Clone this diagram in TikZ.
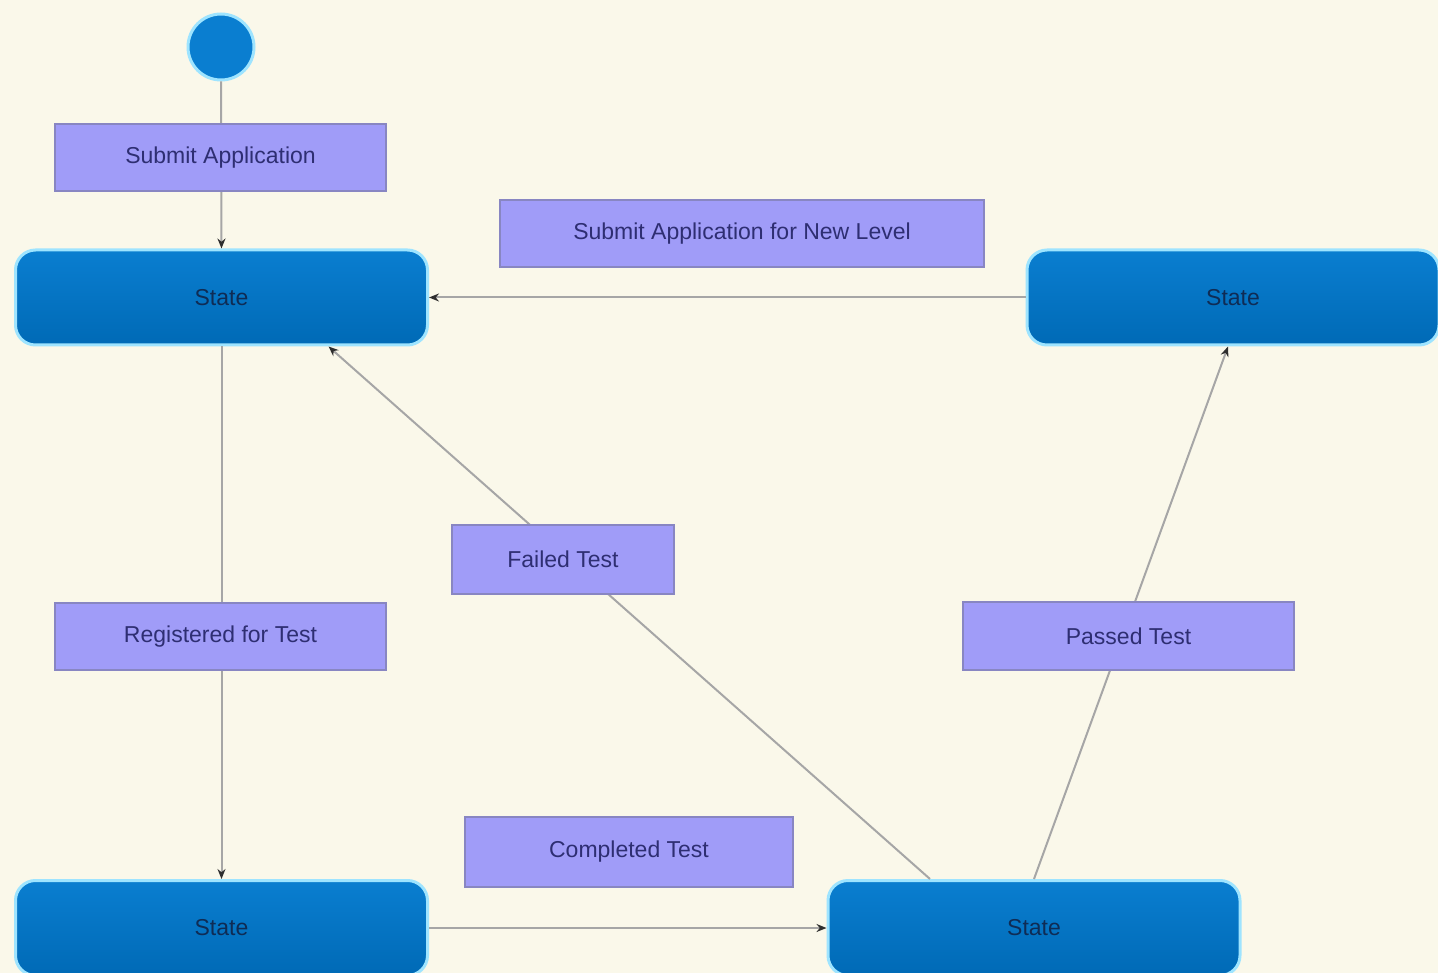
\documentclass[tikz,border=0pt]{standalone}
\usepackage{fontspec}
\setmainfont{Liberation Sans}
\usetikzlibrary{arrows.meta,calc}
\definecolor{bg}{HTML}{FAF8EA}
\definecolor{stTop}{HTML}{0A7ED0}
\definecolor{stBot}{HTML}{006AB6}
\definecolor{glow}{HTML}{9EE4FF}
\definecolor{stText}{HTML}{0F2C55}
\definecolor{lbFill}{HTML}{A09CF8}
\definecolor{lbDraw}{HTML}{8886C2}
\definecolor{lbText}{HTML}{2E2E72}
\definecolor{wire}{HTML}{A6A6A6}
\definecolor{tip}{HTML}{2E2E2E}
\begin{document}
\begin{tikzpicture}[x=1pt,y=-1pt,
  statebox/.style={rounded corners=20pt, top color=stTop, bottom color=stBot, draw=glow, line width=3pt,
    minimum width=412pt, minimum height=95pt, inner sep=0pt, text=stText, font=\fontsize{23}{27}\selectfont},
  initstate/.style={circle, fill=stTop, draw=glow, line width=3pt, minimum size=66pt, inner sep=0pt},
  lblbox/.style={fill=lbFill, draw=lbDraw, line width=2pt, inner sep=0pt, minimum height=67pt,
    text=lbText, font=\fontsize{23}{27}\selectfont},
  wireline/.style={draw=wire, line width=2pt, -{Stealth[length=10pt,width=8pt,color=tip]}}
]
\fill[bg] (0,0) rectangle (1438,973);
\useasboundingbox (0,0) rectangle (1438,973);

% states
\node[initstate] (init) at (221,47) {};
\node[statebox] (s1) at (221.5,297.5) {State};
\node[statebox] (s2) at (1233,297.5) {State};
\node[statebox] (s3) at (221.5,928) {State};
\node[statebox] (s4) at (1034,928) {State};

% connectors
\draw[wireline] (init.south) -- (s1.north);
\draw[wireline] (s2.west) -- (s1.east);
\draw[wireline] (s1.south) -- (s3.north);
\draw[wireline] (s3.east) -- (s4.west);
\draw[wireline] ($(s4.north)+(-104,0)$) -- ($(s1.south)+(107,0)$);
\draw[wireline] (s4.north) -- ($(s2.south)+(-5,0)$);

% labels
\node[lblbox, minimum width=331pt] (lsubmit) at (220.5,157.5) {Submit Application};
\node[lblbox, minimum width=484pt] (lnew) at (742,234) {Submit Application for New Level};
\node[lblbox, minimum width=222pt, minimum height=69pt] (lfail) at (563,559.5) {Failed Test};
\node[lblbox, minimum width=331pt] (lreg) at (220.5,636.5) {Registered for Test};
\node[lblbox, minimum width=331pt, minimum height=68pt] (lpass) at (1128.5,636) {Passed Test};
\node[lblbox, minimum width=328pt, minimum height=70pt] (lcomp) at (629,852) {Completed Test};
\end{tikzpicture}
\end{document}
